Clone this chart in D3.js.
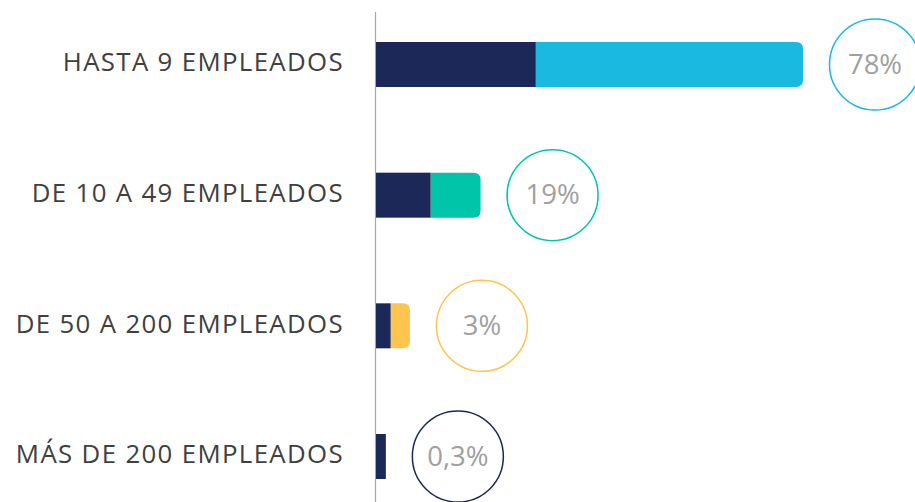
<!DOCTYPE html>
<html><head><meta charset="utf-8">
<script src="https://cdn.jsdelivr.net/npm/d3@7"></script>
<style>body{margin:0;background:#fff}svg{display:block}</style>
</head><body>
<svg id="c" width="915" height="502"></svg>
<script>
const categories = ["HASTA 9 EMPLEADOS","DE 10 A 49 EMPLEADOS","DE 50 A 200 EMPLEADOS","MÁS DE 200 EMPLEADOS"];
const darkValues = [29.2, 10.0, 2.7, 1.8];
const colorValues = [48.8, 9.1, 3.5, 0];
const pctLabels = ["78%","19%","3%","0,3%"];
const accentColors = ["#1ab9df","#00c5a8","#fdc44e","#1c2857"];
const darkColor = "#1c2857";

const svg = d3.select("#c");
const x = d3.scaleLinear().domain([0, 78]).range([376, 803]);
const y = d3.scalePoint().domain(categories).range([64.5, 456.5]);
const bh = 45, r = 7;

svg.append("line").attr("x1",375.5).attr("x2",375.5).attr("y1",12).attr("y2",502)
  .attr("stroke","#a6a6a6").attr("stroke-width",1.2);

function roundRight(x0, x1, yc){
  const t = yc - bh/2, b = yc + bh/2, rr = Math.min(r, (x1-x0));
  return `M${x0},${t}H${x1-rr}Q${x1},${t} ${x1},${t+rr}V${b-rr}Q${x1},${b} ${x1-rr},${b}H${x0}Z`;
}

categories.forEach((c,i)=>{
  const yc = y(c);
  const xd = x(darkValues[i]);
  const xe = x(darkValues[i] + colorValues[i]);
  svg.append("rect").attr("x", x(0)).attr("y", yc-bh/2).attr("width", xd - x(0)).attr("height", bh).attr("fill", darkColor);
  if (colorValues[i] > 0) {
    svg.append("path").attr("d", roundRight(xd, xe, yc)).attr("fill", accentColors[i]);
  }
  svg.append("text").attr("x", 344).attr("y", yc).attr("dy","0.27em").attr("text-anchor","end")
    .attr("font-family","'Open Sans', sans-serif").attr("font-size",25.8).attr("letter-spacing",1.35)
    .attr("fill","#404040").text(c);
  const cx = xe + 72;
  svg.append("circle").attr("cx", cx).attr("cy", yc).attr("r", 45.5)
    .attr("fill","none").attr("stroke", accentColors[i]).attr("stroke-width",1.5);
  svg.append("text").attr("x", cx).attr("y", yc).attr("dy","0.33em").attr("text-anchor","middle")
    .attr("font-family","'Open Sans', sans-serif").attr("font-size",27.5).attr("fill","#a0a0a0").text(pctLabels[i]);
});
</script>
</body></html>
